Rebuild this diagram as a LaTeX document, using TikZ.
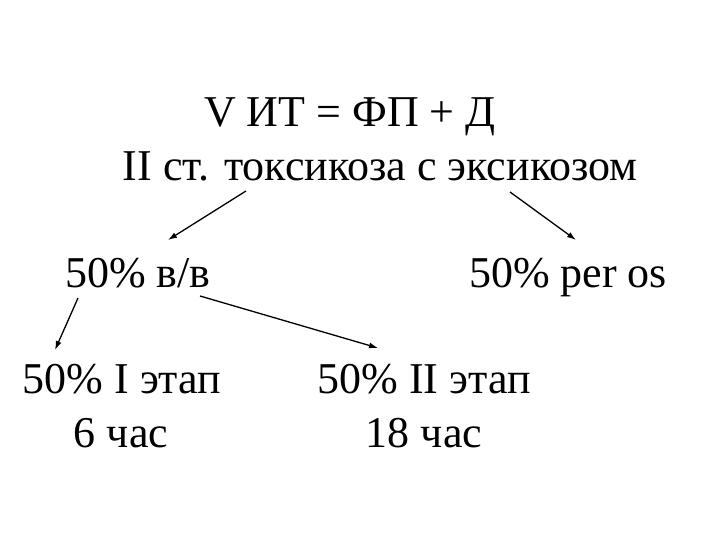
\documentclass[tikz,border=0pt]{standalone}
\usepackage{fontspec}
\setmainfont{Liberation Serif}
\usetikzlibrary{arrows.meta}
\begin{document}
\begin{tikzpicture}[x=1pt,y=-1pt,>={Latex[length=9pt,width=6pt]},
    txt/.style={anchor=base,inner sep=0pt,font=\fontsize{44}{48}\selectfont},
    arr/.style={->,line width=1.3pt}]
    \useasboundingbox (0,0) rectangle (720,540);

    \node[txt] (formula) at (350,127) {V ИТ = ФП + Д};
    \node[txt] (degree) at (380,181) {II ст. токсикоза с эксикозом};

    \node[txt] (iv) at (138,287) {50\% в/в};
    \node[txt] (peros) at (568,287) {50\% per os};

    \node[txt] (stageone) at (122,393) {50\% I этап};
    \node[txt] (sixh) at (121,447) {6 час};
    \node[txt] (stagetwo) at (424,393) {50\% II этап};
    \node[txt] (eighteenh) at (424,447) {18 час};

    \coordinate (d1) at (246,191);
    \coordinate (d2) at (510,192);
    \coordinate (v1) at (78,298);
    \coordinate (v2) at (200,296);
    \draw[arr] (d1) -- (168,240);
    \draw[arr] (d2) -- (576,240);
    \draw[arr] (v1) -- (55,350);
    \draw[arr] (v2) -- (378,348);
\end{tikzpicture}
\end{document}
